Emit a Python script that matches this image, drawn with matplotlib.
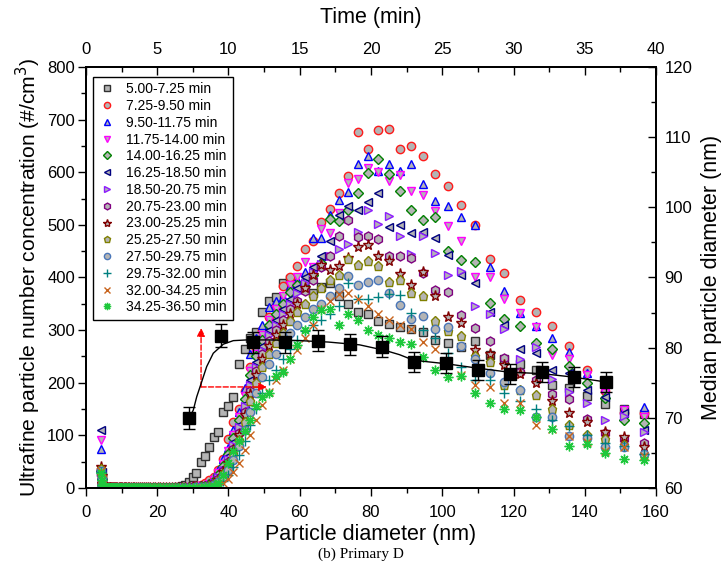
import numpy as np
import matplotlib
matplotlib.use('Agg')
import matplotlib.pyplot as plt
from matplotlib.ticker import MultipleLocator

plt.rcParams['font.family'] = ['Liberation Sans', 'DejaVu Sans']

# SMPS size bins (nm)
diam = [4.29, 4.45, 4.61, 4.78, 4.95, 5.13, 5.32, 5.52, 5.72, 5.93,
        6.15, 6.37, 6.61, 6.85, 7.10, 7.36, 7.63, 7.91, 8.20, 8.50,
        8.81, 9.13, 9.46, 9.81, 10.17, 10.54, 10.93, 11.33, 11.74, 12.17,
        12.62, 13.08, 13.56, 14.06, 14.57, 15.11, 15.66, 16.24, 16.83, 17.45,
        18.08, 18.75, 19.43, 20.15, 20.88, 21.65, 22.44, 23.26, 24.11, 25.0,
        25.9, 26.9, 27.9, 28.9, 29.9, 31.0, 32.2, 33.4, 34.6, 35.8,
        37.1, 38.5, 39.9, 41.4, 42.9, 44.5, 46.1, 47.8, 49.5, 51.3,
        53.2, 55.2, 57.2, 59.3, 61.5, 63.7, 66.1, 68.5, 71.0, 73.6,
        76.3, 79.1, 82.0, 85.0, 88.1, 91.3, 94.6, 98.1, 101.7, 105.4,
        109.3, 113.3, 117.4, 121.7, 126.2, 130.8, 135.6, 140.6, 145.7, 151.1,
        156.6]

# bins 4.95 - 25.0 nm are flat at zero for every period
flat = [0] * 46

s1 = [30, 15, 5, 2] + flat + [
    2, 3, 6, 12, 20, 29, 50, 61, 77, 96,
    107, 144, 155, 172, 236, 264, 285, 296, 334, 356,
    362, 389, 397, 385, 378, 370, 382, 390, 365, 350,
    335, 330, 318, 312, 305, 302, 296, 281, 275, 268,
    280, 252, 245, 235, 224, 196, 190, 175, 160, 150,
    140]
s2 = [35, 20, 8, 2] + flat + [
    0, 0, 0, 1, 2, 4, 6, 10, 15, 20,
    35, 55, 94, 125, 150, 185, 230, 265, 300, 325,
    345, 383, 400, 422, 454, 470, 506, 530, 560, 592,
    677, 644, 680, 682, 644, 650, 631, 597, 574, 537,
    500, 436, 408, 358, 335, 308, 270, 225, 185, 142,
    142]
s3 = [75, 25, 8, 2] + flat + [
    0, 0, 0, 1, 2, 3, 4, 5, 10, 20,
    35, 55, 76, 110, 145, 190, 254, 285, 310, 343,
    355, 363, 384, 395, 411, 475, 475, 519, 548, 563,
    615, 631, 602, 615, 602, 615, 578, 545, 535, 514,
    500, 420, 375, 333, 308, 285, 259, 218, 190, 151,
    153]
s4 = [92, 28, 9, 2] + flat + [
    0, 0, 0, 1, 2, 3, 4, 4, 8, 15,
    28, 45, 70, 100, 135, 175, 222, 255, 290, 320,
    340, 365, 385, 400, 430, 419, 492, 485, 522, 580,
    587, 609, 601, 584, 595, 565, 556, 527, 498, 469,
    400, 401, 359, 332, 306, 253, 246, 215, 180, 148,
    135]
s5 = [32, 18, 6, 1] + flat + [
    0, 0, 0, 1, 1, 2, 3, 3, 7, 13,
    25, 42, 65, 95, 130, 170, 215, 250, 282, 310,
    330, 350, 372, 385, 392, 405, 427, 512, 508, 528,
    560, 598, 626, 596, 565, 528, 509, 514, 451, 434,
    430, 352, 322, 308, 275, 265, 231, 200, 171, 129,
    123]
s6 = [110, 30, 10, 2] + flat + [
    0, 0, 0, 1, 1, 2, 2, 2, 6, 12,
    22, 38, 60, 88, 120, 160, 205, 240, 270, 300,
    320, 340, 360, 380, 400, 420, 440, 470, 519, 535,
    528, 543, 561, 495, 499, 484, 487, 475, 442, 405,
    389, 335, 310, 264, 257, 225, 219, 186, 173, 142,
    110]
s7 = [30, 16, 6, 1] + flat + [
    0, 0, 0, 1, 1, 2, 2, 2, 5, 10,
    20, 35, 55, 82, 115, 155, 195, 230, 262, 290,
    310, 330, 350, 370, 390, 410, 425, 440, 455, 464,
    487, 528, 502, 516, 478, 445, 478, 447, 405, 413,
    346, 330, 303, 246, 268, 208, 183, 162, 129, 137,
    107]
s8 = [34, 18, 6, 1] + flat + [
    0, 0, 0, 0, 1, 1, 2, 2, 4, 9,
    18, 32, 50, 75, 105, 145, 185, 222, 255, 280,
    300, 320, 340, 355, 375, 395, 420, 440, 478, 510,
    476, 478, 473, 440, 440, 437, 408, 376, 372, 328,
    304, 280, 247, 221, 206, 179, 169, 132, 105, 94,
    85]
s9 = [40, 22, 8, 2] + flat + [
    0, 0, 0, 0, 1, 1, 2, 2, 4, 8,
    16, 30, 48, 72, 100, 138, 178, 215, 245, 270,
    290, 310, 330, 350, 380, 404, 423, 415, 422, 437,
    457, 461, 440, 431, 407, 386, 410, 365, 324, 313,
    263, 255, 234, 217, 199, 166, 142, 126, 107, 97,
    78]
s10 = [36, 20, 7, 1] + flat + [
    0, 0, 0, 0, 0, 1, 1, 1, 3, 7,
    14, 26, 42, 65, 92, 125, 165, 200, 230, 255,
    275, 295, 318, 335, 350, 365, 380, 395, 405, 436,
    423, 431, 422, 392, 395, 371, 365, 318, 299, 288,
    250, 240, 196, 186, 177, 150, 120, 101, 94, 82,
    63]
s11 = [33, 18, 6, 1] + flat + [
    0, 0, 0, 0, 0, 1, 1, 1, 2, 5,
    11, 20, 34, 54, 80, 110, 145, 180, 210, 235,
    255, 275, 295, 310, 325, 340, 350, 365, 380, 403,
    385, 392, 395, 370, 348, 321, 326, 302, 305, 270,
    245, 219, 202, 186, 135, 135, 99, 95, 78, 78,
    65]
s12 = [30, 16, 5, 1] + flat + [
    0, 0, 0, 0, 0, 0, 1, 1, 1, 3,
    7, 14, 25, 40, 62, 90, 120, 150, 180, 205,
    225, 245, 265, 282, 298, 310, 320, 330, 345, 390,
    360, 360, 362, 369, 367, 332, 300, 285, 256, 229,
    206, 205, 181, 165, 150, 130, 117, 100, 85, 80,
    65]
s13 = [32, 17, 5, 1] + flat + [
    0, 0, 0, 0, 0, 0, 0, 1, 1, 2,
    5, 10, 18, 30, 48, 72, 100, 130, 158, 182,
    205, 225, 245, 262, 285, 310, 340, 355, 369, 371,
    360, 345, 330, 320, 310, 302, 278, 264, 240, 215,
    196, 191, 162, 162, 120, 112, 99, 88, 71, 78,
    60]
s14 = [28, 15, 5, 1] + flat + [
    0, 0, 0, 0, 0, 0, 0, 1, 1, 3,
    10, 25, 47, 70, 90, 108, 129, 155, 173, 180,
    212, 220, 245, 272, 300, 325, 338, 341, 309, 330,
    320, 300, 290, 285, 278, 274, 248, 224, 210, 212,
    180, 162, 151, 148, 135, 113, 80, 84, 66, 56,
    53]

series = [s1, s2, s3, s4, s5, s6, s7, s8, s9, s10, s11, s12, s13, s14]
labels = ['5.00-7.25 min', '7.25-9.50 min', '9.50-11.75 min', '11.75-14.00 min',
          '14.00-16.25 min', '16.25-18.50 min', '18.50-20.75 min', '20.75-23.00 min',
          '23.00-25.25 min', '25.25-27.50 min', '27.50-29.75 min', '29.75-32.00 min',
          '32.00-34.25 min', '34.25-36.50 min']
markers = ['s', 'o', '^', 'v', 'D', '<', '>', 'h', '*', 'p', 'o', '+', 'x', (8, 2, 0)]
edges = ['#303030', '#ff1a1a', '#0000ff', '#ff00ff', '#008000', '#000080', '#8c1aff',
         '#800080', '#800000', '#808000', '#4a76b8', '#008080', '#c8641e', '#1ec83c']
sizes = [5.5, 6, 6, 6, 5, 6, 6, 6.5, 8, 6.5, 6, 7, 6, 7]

# median particle diameter vs time
times = [7.25, 9.5, 11.75, 14.0, 16.25, 18.5, 20.75, 23.0, 25.25, 27.5, 29.75, 32.0, 34.25, 36.5]
median = [70.0, 81.7, 80.8, 80.8, 81.0, 80.5, 80.1, 78.0, 77.8, 76.8, 76.2, 76.5, 75.8, 75.1]
median_err = [1.6, 1.6, 1.5, 1.5, 1.5, 1.5, 1.5, 1.45, 1.45, 1.45, 1.45, 1.45, 1.45, 1.45]

# fitted curve through the medians
fit_t = [7.25, 7.53, 7.77, 8.0, 8.47, 8.93, 9.64, 10.34, 11.28, 12.9, 15.0, 17.0,
         19.2, 21.0, 22.0, 23.0, 25.3, 27.4, 29.7, 32.0, 34.2, 36.5]
fit_d = [70.0, 71.1, 73.0, 74.4, 77.3, 79.2, 80.5, 81.0, 81.1, 81.1, 81.0, 80.8,
         80.4, 79.6, 79.0, 78.2, 77.7, 77.1, 76.5, 76.3, 75.8, 75.1]

# red guide arrows (particle diameter / concentration coordinates)
arrow_x = 32.3
arrow_y = 192
arrow_top = 304
arrow_right = 50.8

fig = plt.figure(figsize=(7.22, 5.62), dpi=100)
ax = fig.add_axes([0.1191, 0.1317, 0.7895, 0.7491])

for vals, lab, mk, ec, ms in zip(series, labels, markers, edges, sizes):
    ax.plot(diam, vals, linestyle='none', marker=mk, ms=ms, mfc='#b4b4b4',
            mec=ec, mew=1.0, label=lab)

ax.set_xlim(0, 160)
ax.set_ylim(0, 800)
ax.xaxis.set_major_locator(MultipleLocator(20))
ax.xaxis.set_minor_locator(MultipleLocator(10))
ax.yaxis.set_major_locator(MultipleLocator(100))
ax.yaxis.set_minor_locator(MultipleLocator(50))
ax.tick_params(which='both', direction='out', labelsize=12, width=1.0)
ax.tick_params(axis='x', which='major', length=6, pad=6)
ax.tick_params(axis='y', which='major', length=6, pad=2)
ax.tick_params(which='minor', length=3.5)
ax.set_xlabel('Particle diameter (nm)', fontsize=15.5, labelpad=3)
ax.set_ylabel('Ultrafine particle number concentration (#/cm$^3$)', fontsize=15.2, labelpad=3)

ax.annotate('', xy=(arrow_x, arrow_top), xytext=(arrow_x, arrow_y),
            arrowprops=dict(arrowstyle='-|>', color='red', linestyle='--', lw=1.0,
                            mutation_scale=12, shrinkA=0, shrinkB=0))
ax.annotate('', xy=(arrow_right, arrow_y), xytext=(arrow_x, arrow_y),
            arrowprops=dict(arrowstyle='-|>', color='red', linestyle='--', lw=1.0,
                            mutation_scale=12, shrinkA=0, shrinkB=0))

leg = ax.legend(loc='upper left', bbox_to_anchor=(0.012, 0.977), fontsize=10,
                fancybox=False, edgecolor='black', framealpha=1, labelspacing=0.2,
                handletextpad=0.7, handlelength=1.3, borderpad=0.4, borderaxespad=0,
                markerscale=0.75)
leg.get_frame().set_linewidth(1.0)

ax_r = ax.twinx()
ax_r.set_ylim(60, 120)
ax_r.yaxis.set_major_locator(MultipleLocator(10))
ax_r.yaxis.set_minor_locator(MultipleLocator(5))
ax_r.tick_params(which='both', direction='in', labelsize=12, width=1.0, pad=6)
ax_r.tick_params(which='major', length=6)
ax_r.tick_params(which='minor', length=3.5)
ax_r.set_ylabel('Median particle diameter (nm)', fontsize=15.5, labelpad=6)

ax_t = ax_r.twiny()
ax_t.set_xlim(0, 40)
ax_t.xaxis.set_major_locator(MultipleLocator(5))
ax_t.xaxis.set_minor_locator(MultipleLocator(2.5))
ax_t.tick_params(which='both', direction='in', labelsize=12, width=1.0, pad=7)
ax_t.tick_params(which='major', length=6)
ax_t.tick_params(which='minor', length=3.5)
ax_t.set_xlabel('Time (min)', fontsize=15.5, labelpad=14)

ax_t.plot(fit_t, fit_d, color='black', lw=1.0)
ax_t.errorbar(times, median, yerr=median_err, fmt='s', color='black', ms=8,
              capsize=4, elinewidth=1.0, capthick=1.0)

for a in (ax, ax_r, ax_t):
    for sp in a.spines.values():
        sp.set_linewidth(1.2)

fig.text(0.5, 0.001, '(b) Primary D', fontsize=11, family='Liberation Serif',
         ha='center', va='bottom')

plt.savefig('out.png', dpi=100)
plt.close()
